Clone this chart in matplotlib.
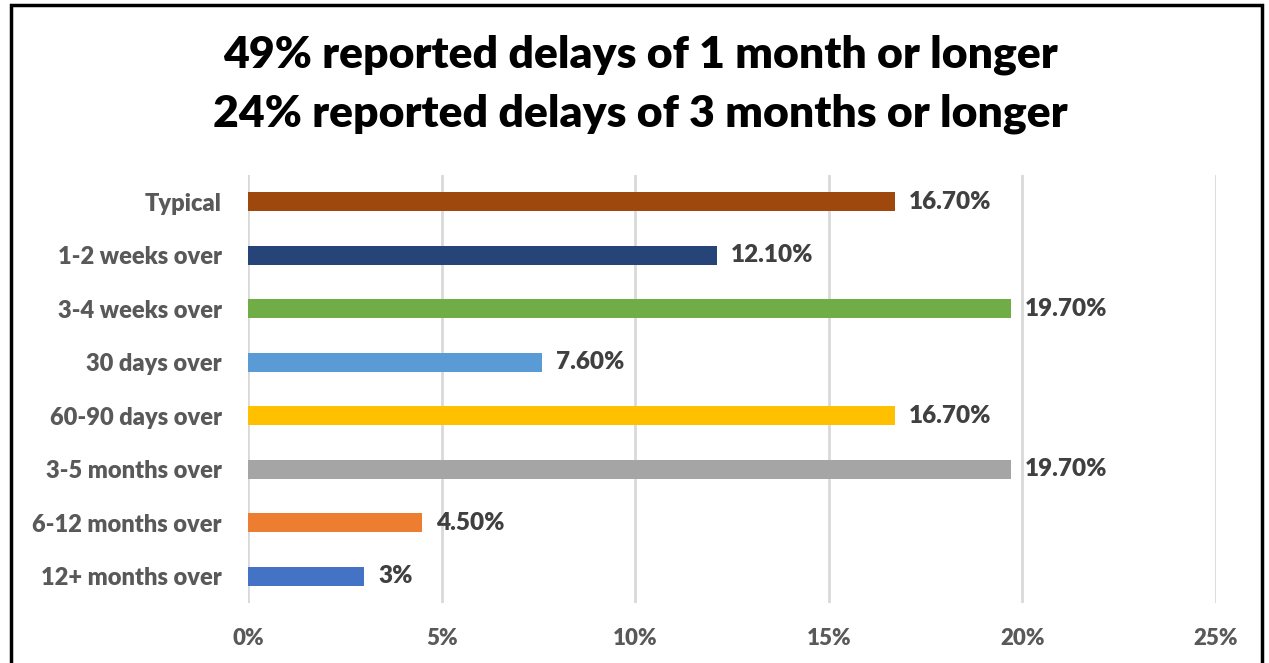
import matplotlib.pyplot as plt
from matplotlib.patches import Rectangle
from matplotlib.ticker import FuncFormatter

categories = ["Typical", "1-2 weeks over", "3-4 weeks over", "30 days over",
              "60-90 days over", "3-5 months over", "6-12 months over", "12+ months over"]
values = [16.7, 12.1, 19.7, 7.6, 16.7, 19.7, 4.5, 3.0]
value_labels = ["16.70%", "12.10%", "19.70%", "7.60%", "16.70%", "19.70%", "4.50%", "3%"]
colors = ["#9E480E", "#264478", "#70AD47", "#5B9BD5", "#FFC000", "#A5A5A5", "#ED7D31", "#4472C4"]
title = "49% reported delays of 1 month or longer\n24% reported delays of 3 months or longer"

W, H = 1269, 663
plt.rcParams['font.family'] = ['Lato', 'DejaVu Sans']
fig = plt.figure(figsize=(W / 100, H / 100), dpi=100)
ax = fig.add_axes([248 / W, 1 - 603 / H, (1216 - 248) / W, (603 - 175) / H])

y = list(range(len(categories)))
ax.barh(y, values, height=0.35, color=colors, zorder=3)
for yi, v, lab in zip(y, values, value_labels):
    ax.annotate(lab, (v, yi), xytext=(14, 0), textcoords="offset pixels",
                va="center", ha="left", fontsize=17.5, fontweight="heavy", color="#404040")

ax.set_xlim(0, 25)
ax.set_ylim(len(categories) - 0.5, -0.5)
ax.set_xticks([0, 5, 10, 15, 20, 25])
ax.xaxis.set_major_formatter(FuncFormatter(lambda x, p: "%d%%" % x))
ax.set_yticks(y)
ax.set_yticklabels(categories)
ax.grid(axis="x", color="#D9D9D9", linewidth=2, zorder=0)
for s in ax.spines.values():
    s.set_visible(False)
ax.tick_params(axis="both", length=0, labelcolor="#595959")
ax.tick_params(axis="y", pad=19, labelsize=17)
ax.tick_params(axis="x", pad=18, labelsize=16)
for t in ax.get_xticklabels() + ax.get_yticklabels():
    t.set_fontweight("heavy")

fig.text(640 / W, 1 - 84 / H, title, ha="center", va="center", fontsize=32,
         fontweight="heavy", color="black", linespacing=1.55)

fig.patches.append(Rectangle((11 / W, -0.05), (1262 - 11) / W, 1.05 - 5 / H,
                             transform=fig.transFigure, fill=False,
                             edgecolor="black", linewidth=2.5))

fig.savefig("out.png", dpi=100, facecolor="white")
